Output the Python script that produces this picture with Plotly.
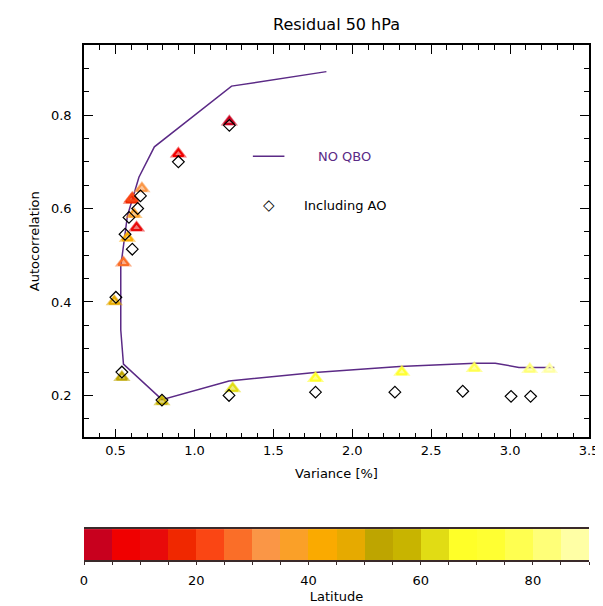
import plotly.graph_objects as go

# ---------------- data ----------------
# NO QBO curve (variance [%], autocorrelation)
noqbo_var = [1.836, 1.235, 0.746, 0.648, 0.575, 0.533, 0.533, 0.550, 0.794, 1.219, 1.763, 2.300, 2.780, 2.906, 3.056, 3.280]
noqbo_ac = [0.893, 0.862, 0.732, 0.667, 0.584, 0.476, 0.340, 0.267, 0.191, 0.231, 0.249, 0.262, 0.269, 0.269, 0.260, 0.260]

# Residual (triangles) coloured by latitude
tri_lat = [2.5, 7.5, 12.5, 17.5, 22.5, 27.5, 32.5, 37.5, 42.5, 47.5, 52.5, 57.5, 62.5, 67.5, 72.5, 77.5, 82.5, 87.5]
tri_var = [1.221, 0.898, 0.633, 0.600, 0.606, 0.550, 0.667, 0.617, 0.575, 0.492, 0.540, 0.794, 1.242, 1.767, 2.314, 2.773, 3.125, 3.250]
tri_ac = [0.786, 0.717, 0.559, 0.618, 0.622, 0.484, 0.643, 0.588, 0.537, 0.401, 0.239, 0.187, 0.215, 0.237, 0.250, 0.258, 0.256, 0.256]

# Including AO (diamonds)
ao_var = [1.221, 0.898, 0.658, 0.640, 0.585, 0.606, 0.560, 0.502, 0.540, 0.794, 1.219, 1.767, 2.270, 2.700, 3.006, 3.130]
ao_ac = [0.778, 0.700, 0.627, 0.600, 0.581, 0.513, 0.545, 0.410, 0.250, 0.190, 0.200, 0.207, 0.207, 0.209, 0.198, 0.198]

# colour table (5-degree latitude bins, 0..90)
bin_colors = ["#c8001e", "#f00000", "#e80a0a", "#f02800", "#fa4614", "#fa6e28",
              "#fa9646", "#faa028", "#faaa00", "#e6aa00", "#bea500", "#c8b400",
              "#e1dc14", "#ffff28", "#ffff32", "#ffff50", "#ffff78", "#ffffa5"]
cbar_lat = [2.5 + 5 * i for i in range(18)]

# ---------------- styling ----------------
FONT = "DejaVu Sans"
PURPLE = "#5b2a86"
nb = len(bin_colors)
cscale = []
for i, c in enumerate(bin_colors):
    cscale.append([i / nb, c])
    cscale.append([(i + 1) / nb, c])

fig = go.Figure()

fig.add_trace(go.Scatter(x=noqbo_var, y=noqbo_ac, mode="lines",
                         line=dict(color=PURPLE, width=1.5), showlegend=False))

fig.add_trace(go.Scatter(x=tri_var, y=tri_ac, mode="markers", showlegend=False,
                         marker=dict(symbol="triangle-up", size=15, opacity=0.55,
                                     color=tri_lat, colorscale=cscale, cmin=0, cmax=90,
                                     line=dict(width=0))))
fig.add_trace(go.Scatter(x=tri_var, y=tri_ac, mode="markers", showlegend=False,
                         marker=dict(symbol="triangle-up-open", size=9,
                                     color=tri_lat, colorscale=cscale, cmin=0, cmax=90,
                                     line=dict(width=2))))

fig.add_trace(go.Scatter(x=ao_var, y=ao_ac, mode="markers", showlegend=False,
                         marker=dict(symbol="diamond-open", size=9, color="black",
                                     line=dict(width=1.2, color="black"))))

# colour bar drawn as a heatmap strip
fig.add_trace(go.Heatmap(x=cbar_lat, y=[0], z=[cbar_lat], colorscale=cscale,
                         zmin=0, zmax=90, showscale=False, xaxis="x2", yaxis="y2",
                         hoverinfo="skip"))

# legend (IDL style)
fig.add_shape(type="line", xref="x", yref="y", x0=1.37, x1=1.57, y0=0.712, y1=0.712,
              line=dict(color=PURPLE, width=1.5))
fig.add_annotation(x=1.77, y=0.712, xref="x", yref="y", text="NO QBO", showarrow=False,
                   xanchor="left", font=dict(family=FONT, size=13, color=PURPLE))
fig.add_annotation(x=1.47, y=0.607, xref="x", yref="y", text="◇", showarrow=False,
                   xanchor="center", font=dict(family=FONT, size=15, color="black"))
fig.add_annotation(x=1.68, y=0.607, xref="x", yref="y", text="Including AO", showarrow=False,
                   xanchor="left", font=dict(family=FONT, size=13, color="black"))

axis_common = dict(showline=True, linecolor="black", linewidth=1.5, mirror="allticks",
                   ticks="inside", tickcolor="black", ticklen=9, tickwidth=1,
                   showgrid=False, zeroline=False,
                   tickfont=dict(family=FONT, size=13, color="black"))

fig.update_layout(
    width=603, height=606,
    paper_bgcolor="white", plot_bgcolor="white",
    margin=dict(l=76, r=15, t=37, b=52),
    font=dict(family=FONT, color="black"),
    title=dict(text="Residual 50 hPa", x=0.5, xref="paper", xanchor="center",
               y=1 - 16 / 606, yref="container", yanchor="middle",
               font=dict(family=FONT, size=16, color="black")),
    xaxis=dict(range=[0.3, 3.5], tick0=0.5, dtick=0.5, tickformat=".1f",
               minor=dict(dtick=0.1, ticklen=5, ticks="inside", tickcolor="black"),
               title=dict(text="Variance [%]", standoff=12, font=dict(family=FONT, size=13)),
               domain=[0, 1], anchor="y", **axis_common),
    yaxis=dict(range=[0.11, 0.95], tick0=0.2, dtick=0.2, tickformat=".1f",
               minor=dict(dtick=0.05, ticklen=5, ticks="inside", tickcolor="black"),
               ticklabelstandoff=8,
               title=dict(text="Autocorrelation", standoff=8, font=dict(family=FONT, size=13)),
               domain=[0.2379, 1], anchor="x", **axis_common),
    xaxis2=dict(range=[0, 90], dtick=20, tick0=0, anchor="y2", domain=[0, 1],
                showline=True, linecolor="#3a2a2a", linewidth=2, mirror=True,
                ticks="outside", ticklen=3, tickcolor="#3a2a2a",
                minor=dict(dtick=5, ticklen=3, ticks="outside", tickcolor="#3a2a2a"),
                ticklabelstandoff=4,
                showgrid=False, zeroline=False,
                tickfont=dict(family=FONT, size=13, color="black"),
                title=dict(text="Latitude", standoff=5, font=dict(family=FONT, size=13))),
    yaxis2=dict(range=[-0.5, 0.5], domain=[0, 0.06], anchor="x2", showticklabels=False,
                ticks="", showgrid=False, zeroline=False, showline=False),
)

fig.write_html("out.html")
